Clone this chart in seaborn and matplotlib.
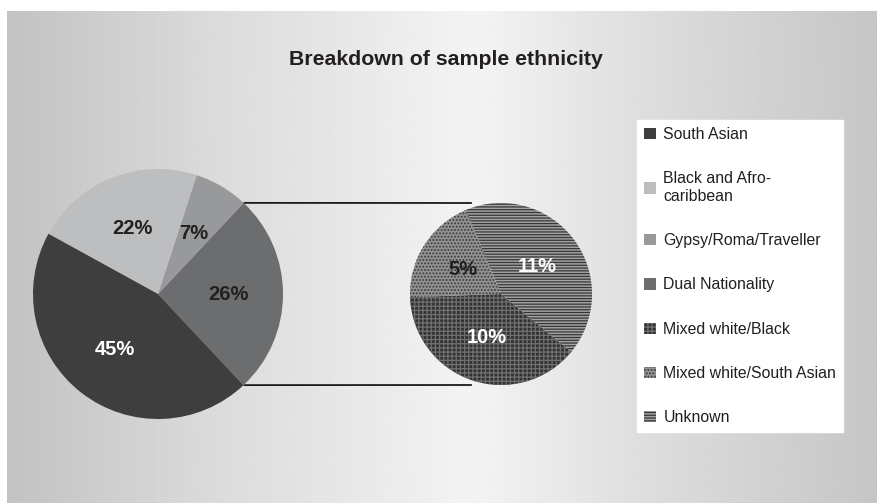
import numpy as np
import matplotlib
matplotlib.use("Agg")
import matplotlib.pyplot as plt
from matplotlib.patches import Patch
import seaborn as sns

# ---- data -------------------------------------------------------------
main_labels = ["South Asian", "Black and Afro-\ncaribbean", "Gypsy/Roma/Traveller"]
main_values = [45, 22, 7]
other_label = "Dual Nationality"

detail_labels = ["Mixed white/Black", "Unknown", "Mixed white/South Asian"]
detail_values = [10, 11, 5]

legend_labels = ["South Asian", "Black and Afro-\ncaribbean", "Gypsy/Roma/Traveller",
                 "Dual Nationality", "Mixed white/Black", "Mixed white/South Asian",
                 "Unknown"]

title = "Breakdown of sample ethnicity"

# ---- styles -------------------------------------------------------------
main_colors = {"South Asian": "#3e3e3f", "Black and Afro-\ncaribbean": "#bdbec0",
               "Gypsy/Roma/Traveller": "#98999b", "Dual Nationality": "#6c6d6f"}
detail_styles = {
    "Mixed white/Black": dict(face="#333333", hatchcolor="#707070", hatch="++++"),
    "Unknown": dict(face="#a2a2a2", hatchcolor="#363636", hatch="------"),
    "Mixed white/South Asian": dict(face="#929292", hatchcolor="#3a3a3a", hatch="....."),
}
text_dark = "#231f20"

sns.set_theme(style="white")
plt.rcParams["font.family"] = ["Liberation Sans", "DejaVu Sans"]
plt.rcParams["hatch.linewidth"] = 0.9

W, H = 878, 503
fig = plt.figure(figsize=(W / 100, H / 100), dpi=100, facecolor="white")
ax = fig.add_axes([0, 0, 1, 1])

# grey panel with a soft horizontal gradient, lightest near the middle
xs = np.arange(W)
shade = np.interp(xs, [7, 200, 470, 640, 878], [0.765, 0.855, 0.955, 0.87, 0.775])
ax.imshow(np.tile(shade, (2, 1)), cmap="gray", vmin=0, vmax=1,
          extent=[7, W, 0, H - 11], aspect="auto", zorder=0,
          interpolation="bilinear")

# ---- main pie: the detail group forms one slice centred on the right ------
other_value = sum(detail_values)
main_draw_vals = [other_value] + main_values[::-1]
main_draw_keys = [other_label] + main_labels[::-1]
c1, r1 = (158, 209), 125
start1 = -other_value / 100 * 180
wedges1, texts1, auto1 = ax.pie(
    main_draw_vals, colors=[main_colors[k] for k in main_draw_keys],
    startangle=start1, counterclock=True, center=c1, radius=r1,
    autopct="%.0f%%", pctdistance=0.56, frame=True,
    wedgeprops=dict(linewidth=0),
    textprops=dict(fontsize=14.5, fontweight="bold", color=text_dark))
for key, t in zip(main_draw_keys, auto1):
    t.set_color("white" if key == "South Asian" else text_dark)

# ---- secondary pie with the breakdown of the grouped slice ---------------
c2, r2 = (501, 209), 91
wedges2, texts2, auto2 = ax.pie(
    detail_values, colors=[detail_styles[k]["face"] for k in detail_labels],
    hatch=[detail_styles[k]["hatch"] for k in detail_labels],
    startangle=182, counterclock=True, center=c2, radius=r2,
    autopct=lambda p: f"{p * other_value / 100:.0f}%", pctdistance=0.5,
    frame=True, wedgeprops=dict(linewidth=0),
    textprops=dict(fontsize=14.5, fontweight="bold", color="white"))
for key, w, t in zip(detail_labels, wedges2, auto2):
    w.set_edgecolor(detail_styles[key]["hatchcolor"])
    w.set_linewidth(0)
    if key == "Mixed white/South Asian":
        t.set_color(text_dark)

# connector lines from the grouped slice towards the second pie
theta = np.deg2rad(other_value / 100 * 180)
x_end = c2[0] - 0.32 * r2
for sgn in (1, -1):
    x0 = c1[0] + r1 * np.cos(theta)
    y0 = c1[1] + sgn * r1 * np.sin(theta)
    ax.plot([x0, x_end], [y0, c2[1] + sgn * r2], color="#1a1a1a", lw=1.3,
            zorder=0.5, solid_capstyle="butt")

ax.text(446, 444, title, ha="center", va="center", fontsize=15.3,
        fontweight="bold", color=text_dark)

ax.set_xlim(0, W)
ax.set_ylim(0, H)
ax.set_aspect("auto")
ax.axis("off")

# ---- legend -------------------------------------------------------------
handles = []
for lab in legend_labels:
    if lab in detail_styles:
        st = detail_styles[lab]
        handles.append(Patch(facecolor=st["face"], edgecolor=st["hatchcolor"],
                             hatch=st["hatch"], linewidth=0))
    else:
        handles.append(Patch(facecolor=main_colors[lab], linewidth=0))
leg = fig.legend(handles, legend_labels, loc="upper left",
                 bbox_to_anchor=(637 / W, 1 - 120 / H), frameon=True,
                 fancybox=False, facecolor="white", edgecolor="white",
                 framealpha=1, fontsize=11.4, handlelength=0.72,
                 handleheight=0.72, handletextpad=0.5, labelspacing=1.85,
                 borderpad=0.45, borderaxespad=0)
for t in leg.get_texts():
    t.set_color(text_dark)

fig.savefig("out.png", dpi=100, facecolor="white")
